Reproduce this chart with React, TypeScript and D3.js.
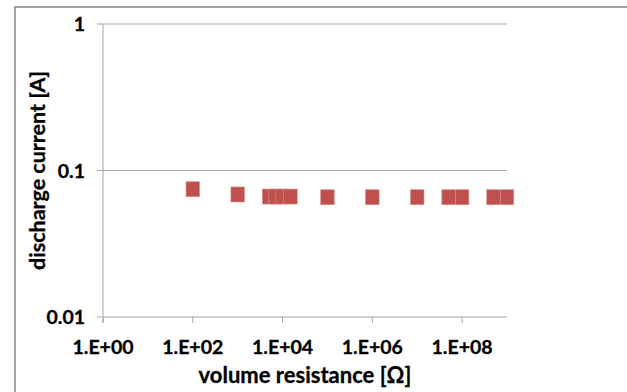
import * as d3 from 'd3';

const resistance = [1e2, 1e3, 5e3, 7e3, 1e4, 1.5e4, 1e5, 1e6, 1e7, 5e7, 1e8, 5e8, 1e9];
const current = [0.0745, 0.0686, 0.0664, 0.0664, 0.0664, 0.0664, 0.0657, 0.0657, 0.0657, 0.0657, 0.0657, 0.0657, 0.0657];
const xTicks = [1, 1e2, 1e4, 1e6, 1e8];
const xTickLabels = ['1.E+00', '1.E+02', '1.E+04', '1.E+06', '1.E+08'];
const yTicks = [0.01, 0.1, 1];
const yTickLabels = ['0.01', '0.1', '1'];

export default function App() {
  const w = 627;
  const h = 392;
  const font = 'Lato, "Open Sans", sans-serif';

  const xScale = d3.scaleLog().domain([1, 1e9]).range([103, 507]);
  const yScale = d3.scaleLog().domain([0.01, 1]).range([317, 24]);
  const x0 = xScale(1);
  const x1 = xScale(1e9);
  const yBottom = yScale(0.01);

  return (
    <svg
      width={w}
      height={h}
      style={{ position: 'absolute', left: 0, top: 0, overflow: 'hidden', background: '#fff' }}
    >
      <rect x={15} y={7} width={700} height={500} fill='#fff' stroke='#878787' strokeWidth={1.5} />

      {/* horizontal gridlines + y ticks */}
      {yTicks.map((t, i) => (
        <g key={'y' + i}>
          <line x1={x0 - 6} x2={x1} y1={yScale(t)} y2={yScale(t)} stroke='#a6a6a6' strokeWidth={1} />
          <text
            x={85}
            y={yScale(t) + 7}
            textAnchor='end'
            fontFamily={font}
            fontWeight='bold'
            fontSize={19.5}
            fill='#000'
            stroke='#000'
            strokeWidth={0.3}
          >
            {yTickLabels[i]}
          </text>
        </g>
      ))}

      {/* y axis */}
      <line x1={x0} x2={x0} y1={yScale(1)} y2={yBottom + 6} stroke='#a6a6a6' strokeWidth={1} />

      {/* x ticks */}
      {xTicks.map((t, i) => (
        <g key={'x' + i}>
          <line x1={xScale(t)} x2={xScale(t)} y1={yBottom} y2={yBottom + 6} stroke='#a6a6a6' strokeWidth={1} />
          <text
            x={xScale(t)}
            y={354}
            textAnchor='middle'
            fontFamily={font}
            fontWeight='bold'
            fontSize={19.5}
            fill='#000'
            stroke='#000'
            strokeWidth={0.3}
          >
            {xTickLabels[i]}
          </text>
        </g>
      ))}

      {/* markers */}
      {resistance.map((r, i) => (
        <rect
          key={'m' + i}
          x={xScale(r) - 6.75}
          y={yScale(current[i]) - 7.5}
          width={13.5}
          height={15}
          fill='#c0504d'
          stroke='#d7908e'
          strokeWidth={0.6}
        />
      ))}

      <text
        x={(x0 + x1) / 2}
        y={383}
        textAnchor='middle'
        fontFamily={font}
        fontWeight='bold'
        fontSize={22}
        fill='#000'
        stroke='#000'
        strokeWidth={0.3}
      >
        volume resistance [Ω]
      </text>
      <text
        transform={`translate(45, ${(yScale(1) + yBottom) / 2}) rotate(-90)`}
        textAnchor='middle'
        fontFamily={font}
        fontWeight='bold'
        fontSize={21.5}
        fill='#000'
        stroke='#000'
        strokeWidth={0.3}
      >
        discharge current [A]
      </text>
    </svg>
  );
}
